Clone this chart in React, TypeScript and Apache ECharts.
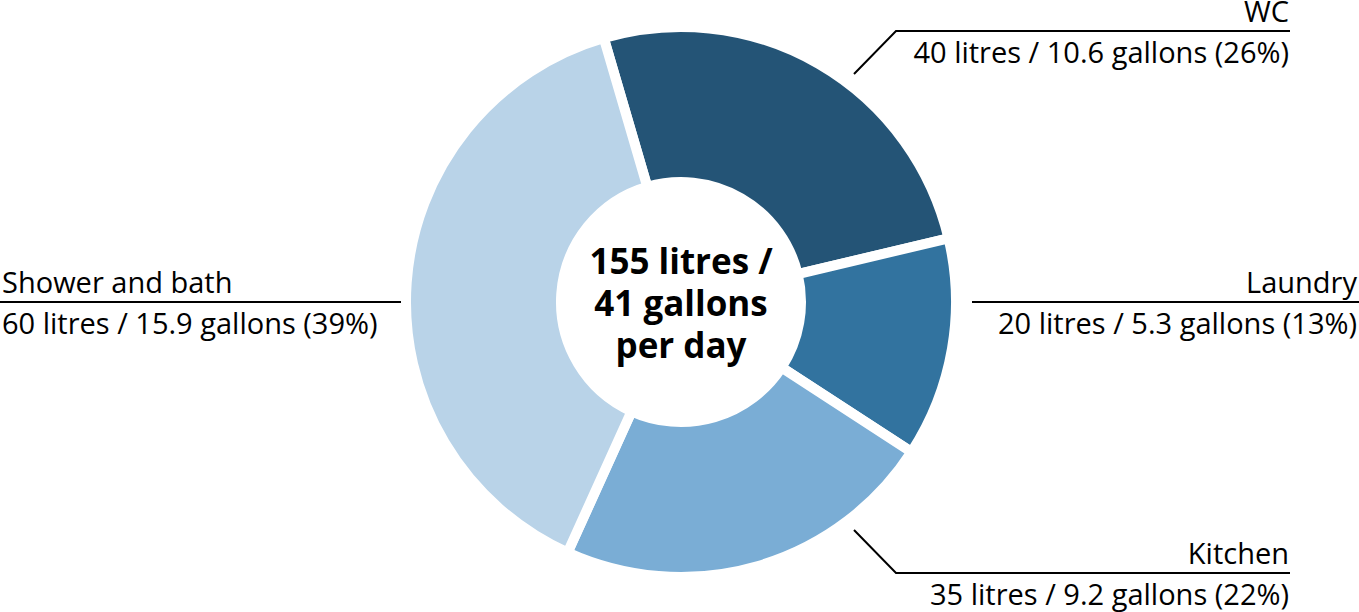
import React, { useEffect, useRef } from "react";
import * as echarts from "echarts";

const names = ["WC", "Laundry", "Kitchen", "Shower and bath"];
const litres = [40, 20, 35, 60];
const gallons = [10.6, 5.3, 9.2, 15.9];
const percents = [26, 13, 22, 39];
const colors = ["#245476", "#32739f", "#7aadd5", "#b9d3e8"];

// label placement (layout only)
const labelGeom = [
  { x: 1289, y: 31, align: "right", line: [[854, 74], [896, 31], [1290, 31]] },
  { x: 1357, y: 302, align: "right", line: [[972, 302], [972, 302], [1359, 302]] },
  { x: 1289, y: 573, align: "right", line: [[854, 530], [896, 573], [1290, 573]] },
  { x: 2, y: 302, align: "left", line: [[402, 302], [402, 302], [0, 302]] },
];

const FONT = "'Open Sans', sans-serif";

export default function App() {
  const ref = useRef<HTMLDivElement>(null);
  useEffect(() => {
    if (!ref.current) return;
    const chart = echarts.init(ref.current, undefined, { renderer: "svg" });
    const totalL = litres.reduce((a, b) => a + b, 0);
    const totalG = gallons.reduce((a, b) => a + b, 0);
    chart.setOption({
      animation: false,
      backgroundColor: "#ffffff",
      graphic: [
        {
          type: "text",
          x: 681,
          y: 302,
          style: {
            text: `${totalL} litres /\n${Math.round(totalG)} gallons\nper day`,
            fontFamily: FONT,
            fontWeight: "bold",
            fontSize: 35,
            lineHeight: 42,
            fill: "#000",
            align: "center",
            verticalAlign: "middle",
          },
          z: 100,
        },
      ],
      series: [
        {
          type: "pie",
          center: [681, 302],
          radius: [120, 275],
          startAngle: 106.3,
          clockwise: true,
          avoidLabelOverlap: false,
          itemStyle: { borderColor: "#ffffff", borderWidth: 10 },
          emphasis: { disabled: true },
          label: {
            show: true,
            position: "outside",
            fontFamily: FONT,
            color: "#000",
            formatter: (p: any) => {
              const i = p.dataIndex;
              return `{n|${names[i]}}\n{v|${litres[i]} litres / ${gallons[i].toFixed(1)} gallons (${percents[i]}%)}`;
            },
            rich: {
              n: { fontFamily: FONT, fontSize: 29, lineHeight: 41, color: "#000" },
              v: { fontFamily: FONT, fontSize: 29, lineHeight: 41, color: "#000" },
            },
          },
          labelLine: {
            show: true,
            smooth: false,
            lineStyle: { color: "#000", width: 2 },
          },
          labelLayout: (params: any) => {
            const g = labelGeom[params.dataIndex];
            return {
              x: g.x,
              y: g.y,
              align: g.align,
              verticalAlign: "middle",
              labelLinePoints: g.line,
            };
          },
          data: names.map((n, i) => ({
            name: n,
            value: litres[i],
            itemStyle: { color: colors[i] },
          })),
        },
      ],
    });
    return () => chart.dispose();
  }, []);
  return (
    <div
      ref={ref}
      style={{ position: "absolute", left: 0, top: 0, width: 1359, height: 612 }}
    />
  );
}
